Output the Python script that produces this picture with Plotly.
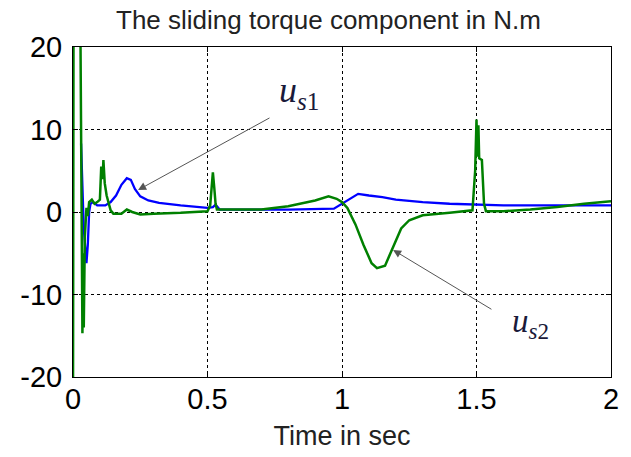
import plotly.graph_objects as go

# us1 (blue)
t_us1 = [0.03, 0.033, 0.04, 0.05, 0.055, 0.06, 0.065, 0.075, 0.09, 0.12, 0.14, 0.16, 0.18, 0.2,
         0.215, 0.23, 0.25, 0.28, 0.32, 0.4, 0.5, 0.52, 0.53, 0.545, 0.6, 0.8, 0.97, 1.0, 1.03,
         1.06, 1.1, 1.15, 1.2, 1.3, 1.4, 1.5, 1.6, 1.8, 2.0]
v_us1 = [8.3, 4.5, -2.0, -6.2, -4.0, 0.0, 1.0, 1.2, 0.8, 0.8, 1.2, 2.0, 3.3, 4.1,
         3.9, 2.8, 1.9, 1.4, 1.1, 0.8, 0.5, 0.6, 0.9, 0.3, 0.3, 0.3, 0.4, 1.0, 1.5,
         2.2, 2.0, 1.8, 1.5, 1.2, 1.0, 0.9, 0.8, 0.8, 0.8]

# us2 (green)
t_us2 = [0.0, 0.002, 0.027, 0.032, 0.035, 0.038, 0.04, 0.044, 0.05, 0.055, 0.06, 0.07, 0.08,
         0.09, 0.1, 0.105, 0.11, 0.113, 0.118, 0.125, 0.13, 0.14, 0.15, 0.18, 0.2, 0.22, 0.25,
         0.3, 0.4, 0.5, 0.51, 0.52, 0.525, 0.53, 0.535, 0.6, 0.7, 0.8, 0.9, 0.95, 0.98, 1.0,
         1.02, 1.05, 1.08, 1.11, 1.13, 1.16, 1.18, 1.2, 1.22, 1.25, 1.3, 1.4, 1.485, 1.495,
         1.5, 1.503, 1.507, 1.51, 1.52, 1.528, 1.535, 1.6, 1.7, 1.8, 1.9, 2.0]
v_us2 = [-25, 25, 25, -13, -14.7, -5, -14, -3, 0.5, -0.5, 1.2, 1.5, 1.0,
         1.2, 1.5, 5.5, 4.0, 6.3, 3.5, 2.0, 1.5, 0.2, -0.2, -0.2, 0.3, 0.0, -0.3,
         -0.2, -0.1, 0.1, 0.8, 4.8, 3.0, 1.0, 0.3, 0.3, 0.3, 0.7, 1.4, 1.9, 1.6, 1.2,
         0.5, -1.5, -4.0, -6.2, -6.8, -6.5, -5.0, -3.5, -2.0, -1.0, -0.4, -0.1, 0.2, 5.0,
         11.2, 6.7, 10.5, 6.5, 6.3, 1.0, 0.1, 0.1, 0.3, 0.6, 1.0, 1.3]

x_ticks = [0, 0.5, 1, 1.5, 2]
y_ticks = [-20, -10, 0, 10, 20]

fig = go.Figure()
fig.add_trace(go.Scatter(x=t_us1, y=v_us1, mode="lines",
                         line=dict(color="#0000ff", width=2.3), showlegend=False))
fig.add_trace(go.Scatter(x=t_us2, y=v_us2, mode="lines",
                         line=dict(color="#008000", width=2.5), showlegend=False))

arrow = dict(showarrow=True, arrowhead=2, arrowsize=1.6, arrowwidth=1,
             arrowcolor="#555555", axref="x", ayref="y", text="")
fig.add_annotation(x=0.242, y=2.67, ax=0.736, ay=11.5, **arrow)
fig.add_annotation(x=1.19, y=-4.6, ax=1.561, ay=-11.9, **arrow)

fig.add_annotation(x=0.84, y=14.5, text="<i>u</i><sub><i>s</i>1</sub>",
                   showarrow=False, font=dict(family="Liberation Serif", size=36, color="#1a1a3a"))
fig.add_annotation(x=1.70, y=-13.5, text="<i>u</i><sub><i>s</i>2</sub>",
                   showarrow=False, font=dict(family="Liberation Serif", size=33, color="#1a1a3a"))

# chart title
fig.add_annotation(xref="paper", yref="paper", x=0.474, y=1.082, xanchor="center", yanchor="middle",
                   text="The sliding torque component in N.m", showarrow=False,
                   font=dict(family="Liberation Sans", size=26, color="#222"))

axis_common = dict(showline=True, linecolor="black", linewidth=1, mirror="allticks",
                   ticks="inside", ticklen=5, tickcolor="black",
                   showgrid=True, gridcolor="black", gridwidth=1, griddash="3px,3px",
                   zeroline=False,
                   tickfont=dict(family="Liberation Sans", size=29, color="black"))

fig.update_xaxes(range=[0, 2], tickvals=x_ticks, ticktext=[str(v) for v in x_ticks],
                 ticklabelstandoff=-4,
                 title=dict(text="Time in sec", font=dict(family="Liberation Sans", size=27, color="#222"),
                            standoff=12),
                 **axis_common)
fig.update_yaxes(range=[-20, 20], tickvals=y_ticks, ticktext=[str(v) for v in y_ticks],
                 ticklabelstandoff=4,
                 **axis_common)

fig.update_layout(
    width=623, height=449,
    margin=dict(l=65, r=20, t=39, b=80),
    plot_bgcolor="white", paper_bgcolor="white",
)

fig.write_html("out.html")
